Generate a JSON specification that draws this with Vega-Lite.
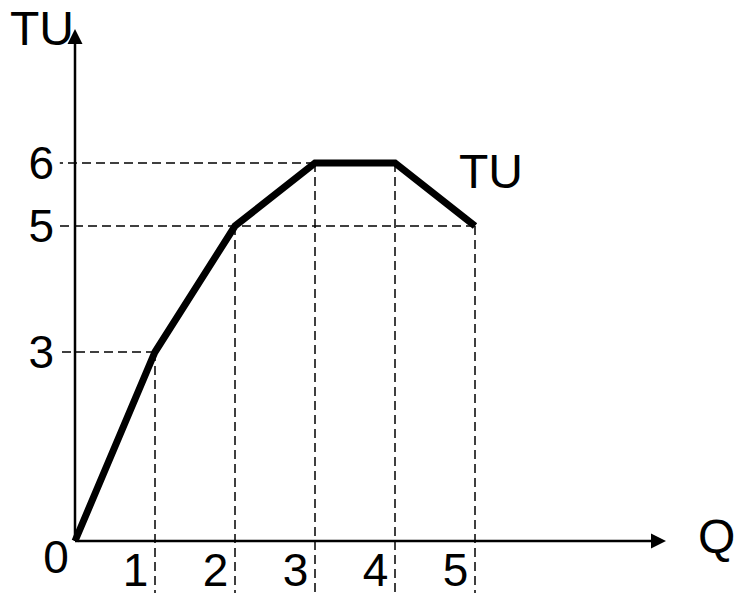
{
  "$schema": "https://vega.github.io/schema/vega-lite/v6.json",
  "width": 738,
  "height": 593,
  "autosize": {"type": "none"},
  "padding": 0,
  "background": "white",
  "config": {
    "view": {"stroke": null},
    "text": {"font": "Liberation Sans", "color": "black"}
  },
  "data": {"values": [{}]},
  "datasets": {
    "utility": [
      {"q": 0, "tu": 0},
      {"q": 1, "tu": 3},
      {"q": 2, "tu": 5},
      {"q": 3, "tu": 6},
      {"q": 4, "tu": 6},
      {"q": 5, "tu": 5}
    ],
    "levels": [
      {"q": 1, "tu": 3},
      {"q": 5, "tu": 5},
      {"q": 3, "tu": 6}
    ]
  },
  "layer": [
    {
      "data": {"name": "utility"},
      "transform": [{"filter": "datum.q > 0"}],
      "mark": {"type": "rule", "color": "black", "strokeWidth": 1.5, "strokeDash": [9, 5]},
      "encoding": {
        "x": {"field": "q", "type": "quantitative", "scale": {"domain": [-0.9375, 8.2875], "nice": false, "zero": false}, "axis": null},
        "y": {"field": "tu", "type": "quantitative", "scale": {"domain": [-0.8254, 8.5873], "nice": false, "zero": false}, "axis": null},
        "y2": {"datum": -0.83}
      }
    },
    {
      "data": {"name": "levels"},
      "mark": {"type": "rule", "color": "black", "strokeWidth": 1.5, "strokeDash": [9, 5]},
      "encoding": {
        "x": {"field": "q", "type": "quantitative", "scale": {"domain": [-0.9375, 8.2875], "nice": false, "zero": false}, "axis": null},
        "x2": {"datum": -0.19},
        "y": {"field": "tu", "type": "quantitative", "scale": {"domain": [-0.8254, 8.5873], "nice": false, "zero": false}, "axis": null}
      }
    },
    {
      "mark": {"type": "rule", "color": "black", "strokeWidth": 2.5},
      "encoding": {
        "x": {"datum": 0, "type": "quantitative", "scale": {"domain": [-0.9375, 8.2875], "nice": false, "zero": false}, "axis": null},
        "y": {"datum": 0, "type": "quantitative", "scale": {"domain": [-0.8254, 8.5873], "nice": false, "zero": false}, "axis": null},
        "y2": {"datum": 7.95}
      }
    },
    {
      "mark": {"type": "rule", "color": "black", "strokeWidth": 2.5},
      "encoding": {
        "x": {"datum": 0, "type": "quantitative", "scale": {"domain": [-0.9375, 8.2875], "nice": false, "zero": false}, "axis": null},
        "x2": {"datum": 7.25},
        "y": {"datum": 0, "type": "quantitative", "scale": {"domain": [-0.8254, 8.5873], "nice": false, "zero": false}, "axis": null}
      }
    },
    {
      "mark": {"type": "point", "shape": "M0,0L-1,2L1,2Z", "size": 225, "filled": true, "color": "black", "opacity": 1, "strokeWidth": 0},
      "encoding": {
        "x": {"datum": 0, "type": "quantitative", "scale": {"domain": [-0.9375, 8.2875], "nice": false, "zero": false}, "axis": null},
        "y": {"datum": 8.127, "type": "quantitative", "scale": {"domain": [-0.8254, 8.5873], "nice": false, "zero": false}, "axis": null}
      }
    },
    {
      "mark": {"type": "point", "shape": "M0,0L-2,-1L-2,1Z", "size": 225, "filled": true, "color": "black", "opacity": 1, "strokeWidth": 0},
      "encoding": {
        "x": {"datum": 7.3875, "type": "quantitative", "scale": {"domain": [-0.9375, 8.2875], "nice": false, "zero": false}, "axis": null},
        "y": {"datum": 0, "type": "quantitative", "scale": {"domain": [-0.8254, 8.5873], "nice": false, "zero": false}, "axis": null}
      }
    },
    {
      "data": {"name": "utility"},
      "mark": {"type": "line", "color": "black", "strokeWidth": 7},
      "encoding": {
        "x": {"field": "q", "type": "quantitative", "scale": {"domain": [-0.9375, 8.2875], "nice": false, "zero": false}, "axis": null},
        "y": {"field": "tu", "type": "quantitative", "scale": {"domain": [-0.8254, 8.5873], "nice": false, "zero": false}, "axis": null}
      }
    },
    {
      "data": {"name": "utility"},
      "transform": [{"filter": "datum.q > 0"}],
      "mark": {"type": "text", "fontSize": 46, "align": "center", "baseline": "alphabetic", "dx": -19.5, "dy": 45},
      "encoding": {
        "x": {"field": "q", "type": "quantitative", "scale": {"domain": [-0.9375, 8.2875], "nice": false, "zero": false}, "axis": null},
        "y": {"datum": 0, "type": "quantitative", "scale": {"domain": [-0.8254, 8.5873], "nice": false, "zero": false}, "axis": null},
        "text": {"field": "q", "type": "nominal"}
      }
    },
    {
      "data": {"name": "levels"},
      "mark": {"type": "text", "fontSize": 46, "align": "right", "baseline": "alphabetic", "dx": -21, "dy": 16},
      "encoding": {
        "x": {"datum": 0, "type": "quantitative", "scale": {"domain": [-0.9375, 8.2875], "nice": false, "zero": false}, "axis": null},
        "y": {"field": "tu", "type": "quantitative", "scale": {"domain": [-0.8254, 8.5873], "nice": false, "zero": false}, "axis": null},
        "text": {"field": "tu", "type": "nominal"}
      }
    },
    {
      "mark": {"type": "text", "text": "0", "fontSize": 46, "align": "center", "baseline": "alphabetic", "dx": -19, "dy": 32},
      "encoding": {
        "x": {"datum": 0, "type": "quantitative", "scale": {"domain": [-0.9375, 8.2875], "nice": false, "zero": false}, "axis": null},
        "y": {"datum": 0, "type": "quantitative", "scale": {"domain": [-0.8254, 8.5873], "nice": false, "zero": false}, "axis": null}
      }
    },
    {
      "mark": {"type": "text", "text": "TU", "fontSize": 48, "align": "right", "baseline": "alphabetic", "dx": -1, "dy": 16},
      "encoding": {
        "x": {"datum": 0, "type": "quantitative", "scale": {"domain": [-0.9375, 8.2875], "nice": false, "zero": false}, "axis": null},
        "y": {"datum": 8.127, "type": "quantitative", "scale": {"domain": [-0.8254, 8.5873], "nice": false, "zero": false}, "axis": null}
      }
    },
    {
      "mark": {"type": "text", "text": "Q", "fontSize": 48, "align": "left", "baseline": "alphabetic", "dx": 32, "dy": 12},
      "encoding": {
        "x": {"datum": 7.3875, "type": "quantitative", "scale": {"domain": [-0.9375, 8.2875], "nice": false, "zero": false}, "axis": null},
        "y": {"datum": 0, "type": "quantitative", "scale": {"domain": [-0.8254, 8.5873], "nice": false, "zero": false}, "axis": null}
      }
    },
    {
      "mark": {"type": "text", "text": "TU", "fontSize": 48, "align": "left", "baseline": "alphabetic"},
      "encoding": {
        "x": {"datum": 4.8, "type": "quantitative", "scale": {"domain": [-0.9375, 8.2875], "nice": false, "zero": false}, "axis": null},
        "y": {"datum": 5.6, "type": "quantitative", "scale": {"domain": [-0.8254, 8.5873], "nice": false, "zero": false}, "axis": null}
      }
    }
  ]
}
